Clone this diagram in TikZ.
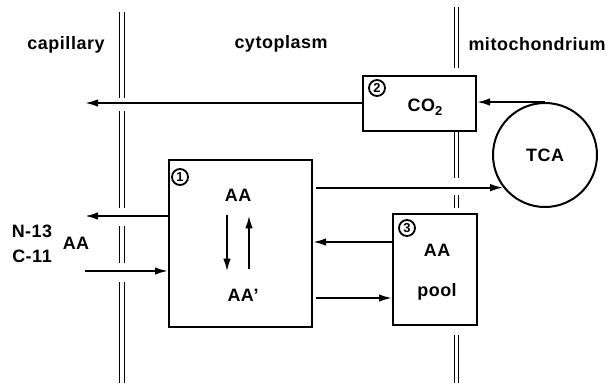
\documentclass[tikz,border=0pt]{standalone}
\usepackage{fontspec}
\setmainfont{Liberation Sans}[LetterSpace=3]
\usetikzlibrary{arrows.meta}
\begin{document}
\begin{tikzpicture}[x=1bp, y=-1bp, font=\fontsize{18}{21}\selectfont\bfseries,
  box/.style={draw, line width=2bp, inner sep=0pt},
  num/.style={draw, circle, line width=1.8bp, inner sep=0pt, minimum size=16bp,
    font=\fontsize{13}{14}\selectfont\bfseries},
  lbl/.style={inner sep=0pt},
  flow/.style={line width=2bp, -{Latex[length=13bp,width=7.5bp]}},
  wall/.style={line width=1bp}]
  \useasboundingbox (0,0) rectangle (610,385);
  % membranes
  \foreach \a/\b in {12/98, 111/208, 226/263, 282/383}{
    \draw[wall] (119,\a) -- (119,\b);
    \draw[wall] (124,\a) -- (124,\b);}
  \foreach \a/\b in {7/68, 130/178, 195/208, 335/383}{
    \draw[wall] (454,\a) -- (454,\b);
    \draw[wall] (458,\a) -- (458,\b);}
  % compartments
  \node[lbl] (cap) at (66,45) {capillary};
  \node[lbl] (cyt) at (281,44) {cytoplasm};
  \node[lbl] (mit) at (537,44) {mitochondrium};
  % boxes
  \node[box, minimum width=143bp, minimum height=167bp] (b1) at (240.5,243.5) {};
  \node[box, minimum width=113bp, minimum height=55bp] (b2) at (419.5,103) {};
  \node[box, minimum width=84bp, minimum height=111bp] (b3) at (435,269.5) {};
  \node[draw, circle, line width=2bp, minimum size=104bp] (tca) at (545,155) {TCA};
  \node[num] (n1) at (180,177) {1};
  \node[num] (n2) at (377,88) {2};
  \node[num] (n3) at (407,228) {3};
  \node[lbl] (aa) at (238,195) {AA};
  \node[lbl] (aap) at (243,295) {AA’};
  \node[lbl] (co2) at (425,107) {CO\raisebox{-0.4ex}{\fontsize{13}{13}\selectfont 2}};
  \node[lbl] (paa) at (437,250) {AA};
  \node[lbl] (pool) at (437,292) {pool};
  \node[lbl] (n13) at (32,231) {N-13};
  \node[lbl] (c11) at (32,256) {C-11};
  \node[lbl] (tag) at (76,243) {AA};
  % flows
  \coordinate (c1) at (85,103);
  \coordinate (c2) at (85,216);
  \coordinate (c3) at (85,271);
  \draw[flow] (b2.west) -- (c1);
  \draw[flow] (tca.north) -- (tca.north -| b2.east);
  \draw[flow] (b1.west |- c2) -- (c2);
  \draw[flow] (c3) -- (b1.west |- c3);
  \draw[flow, shorten <=3bp] (b1.east |- tca.218) -- (tca.218);
  \draw[flow] (b3.west |- 0,242) -- (b1.east |- 0,242);
  \draw[flow, shorten <=3bp] (b1.east |- 0,298) -- (b3.west |- 0,298);
  \draw[flow, shorten <=14bp, shorten >=17bp] (aa.south -| 227,0) -- (aap.north -| 227,0);
  \draw[flow, shorten <=20bp, shorten >=14bp] (aap.north -| 249,0) -- (aa.south -| 249,0);
\end{tikzpicture}
\end{document}
